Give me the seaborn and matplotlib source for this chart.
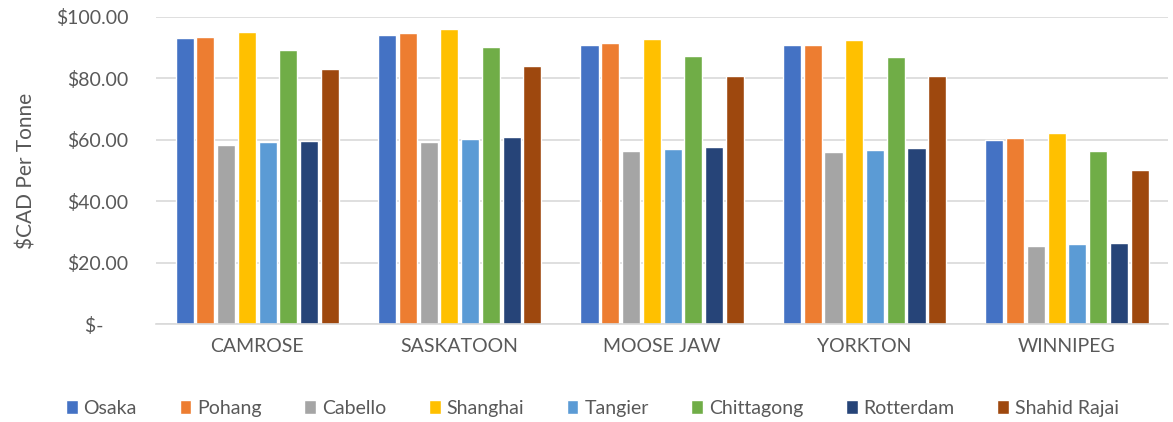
import matplotlib
matplotlib.use("Agg")
import matplotlib.pyplot as plt
import seaborn as sns
import pandas as pd

cities = ["CAMROSE", "SASKATOON", "MOOSE JAW", "YORKTON", "WINNIPEG"]
ports = ["Osaka", "Pohang", "Cabello", "Shanghai", "Tangier",
         "Chittagong", "Rotterdam", "Shahid Rajai"]

osaka = [93.1, 94.2, 91.0, 90.7, 60.0]
pohang = [93.5, 94.6, 91.4, 91.0, 60.5]
cabello = [58.4, 59.4, 56.4, 56.0, 25.3]
shanghai = [95.1, 96.1, 92.9, 92.6, 62.1]
tangier = [59.2, 60.3, 57.1, 56.8, 26.1]
chittagong = [89.3, 90.3, 87.2, 86.9, 56.2]
rotterdam = [59.6, 60.9, 57.7, 57.3, 26.5]
shahid_rajai = [83.1, 84.1, 80.9, 80.7, 50.1]

y_ticks = [0, 20, 40, 60, 80, 100]
y_tick_labels = ["$-     ", "$20.00", "$40.00", "$60.00", "$80.00", "$100.00"]

colors = ["#4472C4", "#ED7D31", "#A5A5A5", "#FFC000",
          "#5B9BD5", "#70AD47", "#264478", "#9E480E"]

series = [osaka, pohang, cabello, shanghai, tangier,
          chittagong, rotterdam, shahid_rajai]
rows = []
for port, vals in zip(ports, series):
    for city, v in zip(cities, vals):
        rows.append({"City": city, "Port": port, "Cost": v})
df = pd.DataFrame(rows)

sns.set_theme(style="white")
plt.rcParams["font.family"] = ["Lato", "DejaVu Sans"]
text_color = "#595959"

fig = plt.figure(figsize=(11.73, 4.22), dpi=100)
ax = fig.add_axes([0.133, 0.232, 0.863, 0.728])

sns.barplot(data=df, x="City", y="Cost", hue="Port", order=cities,
            hue_order=ports, palette=colors, width=0.82, gap=0.13,
            saturation=1, ax=ax, legend=True)

ax.set_ylim(0, 100)
ax.set_xlim(-0.5, len(cities) - 0.5)
ax.set_yticks(y_ticks)
ax.set_yticklabels(y_tick_labels)
ax.yaxis.grid(True, color="#d9d9d9", linewidth=1.2)
ax.set_axisbelow(True)
for side in ["top", "right", "left"]:
    ax.spines[side].set_visible(False)
ax.spines["bottom"].set_color("#d9d9d9")
ax.spines["bottom"].set_linewidth(1.2)
ax.tick_params(axis="both", length=0, colors=text_color, labelsize=14)
ax.tick_params(axis="y", pad=20)
ax.tick_params(axis="x", pad=10)
ax.set_xlabel("")
ax.set_ylabel("$CAD Per Tonne", fontsize=15, color=text_color, labelpad=14)

handles, labels = ax.get_legend_handles_labels()
ax.legend_.remove()
fig.legend(handles, labels, loc="center", bbox_to_anchor=(0.505, 0.033),
           ncol=8, frameon=False, fontsize=14, labelcolor=text_color,
           handlelength=0.6, handleheight=0.7, handletextpad=0.3,
           columnspacing=2.2)

fig.savefig("out.png", dpi=100)
